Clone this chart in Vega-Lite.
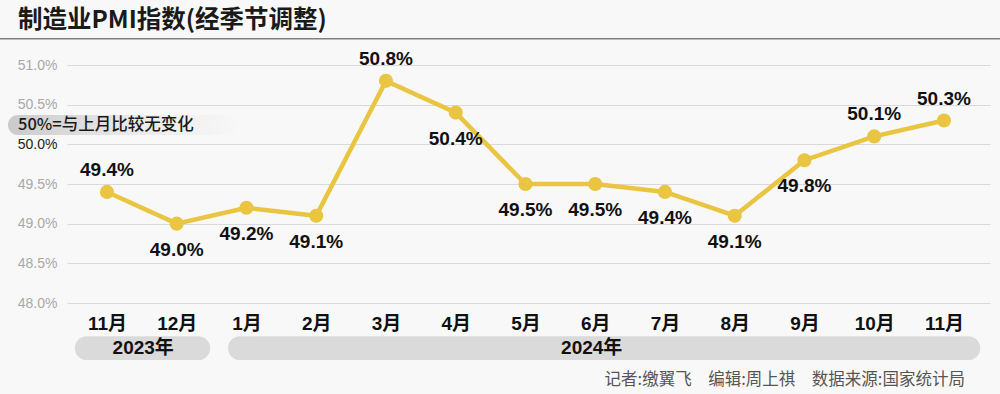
{
  "$schema": "https://vega.github.io/schema/vega-lite/v6.json",
  "width": 923,
  "height": 238,
  "autosize": {"type": "none"},
  "padding": {"left": 67, "top": 65, "right": 10, "bottom": 91},
  "background": "#f8f8f8",
  "config": {
    "view": {"stroke": null},
    "font": "Liberation Sans",
    "axisY": {"tickCount": 7}
  },
  "datasets": {
    "pmi": [
      {"i": 0, "month": "11月", "value": 49.4, "label": "49.4%", "pos": "above"},
      {"i": 1, "month": "12月", "value": 49.0, "label": "49.0%", "pos": "below"},
      {"i": 2, "month": "1月", "value": 49.2, "label": "49.2%", "pos": "below"},
      {"i": 3, "month": "2月", "value": 49.1, "label": "49.1%", "pos": "below"},
      {"i": 4, "month": "3月", "value": 50.8, "label": "50.8%", "pos": "above"},
      {"i": 5, "month": "4月", "value": 50.4, "label": "50.4%", "pos": "below"},
      {"i": 6, "month": "5月", "value": 49.5, "label": "49.5%", "pos": "below"},
      {"i": 7, "month": "6月", "value": 49.5, "label": "49.5%", "pos": "below"},
      {"i": 8, "month": "7月", "value": 49.4, "label": "49.4%", "pos": "below"},
      {"i": 9, "month": "8月", "value": 49.1, "label": "49.1%", "pos": "below"},
      {"i": 10, "month": "9月", "value": 49.8, "label": "49.8%", "pos": "below"},
      {"i": 11, "month": "10月", "value": 50.1, "label": "50.1%", "pos": "above"},
      {"i": 12, "month": "11月", "value": 50.3, "label": "50.3%", "pos": "above"}
    ],
    "years": [
      {"x0": -0.46, "x1": 1.48, "y0": 47.58, "y1": 47.28, "xc": 0.52, "label": "2023年"},
      {"x0": 1.735, "x1": 12.52, "y0": 47.58, "y1": 47.28, "xc": 6.95, "label": "2024年"}
    ]
  },
  "layer": [
    {
      "data": {"name": "pmi"},
      "mark": {"type": "line", "color": "#e9c541", "strokeWidth": 4.5},
      "encoding": {
        "x": {
          "field": "i", "type": "quantitative",
          "scale": {"domain": [-0.573, 12.66], "nice": false, "zero": false},
          "axis": {
            "values": [0,1,2,3,4,5,6,7,8,9,10,11,12],
            "labelExpr": "['11月','12月','1月','2月','3月','4月','5月','6月','7月','8月','9月','10月','11月'][datum.value]",
            "grid": false, "domain": false, "ticks": false, "title": null,
            "labelFontSize": 19, "labelFontWeight": "bold", "labelColor": "#111",
            "labelPadding": 11, "labelOverlap": false, "labelFont": "Liberation Sans, Noto Sans CJK SC"
          }
        },
        "y": {
          "field": "value", "type": "quantitative",
          "scale": {"domain": [48, 51], "nice": false, "zero": false},
          "axis": {
            "values": [48, 48.5, 49, 49.5, 50, 50.5, 51],
            "tickCount": 7,
            "format": ".1f",
            "labelExpr": "datum.label + '%'",
            "grid": true, "gridColor": "#d9d9d9", "gridWidth": 1,
            "domain": false, "ticks": false, "title": null,
            "labelFontSize": 14, "labelPadding": 10, "labelOverlap": false,
            "labelColor": {"condition": {"test": "datum.value == 50", "value": "#222"}, "value": "#a8a8a8"}
          }
        }
      }
    },
    {
      "data": {"values": [{"a": -1.54, "b": 12.81, "y": 51.33}]},
      "mark": {"type": "rule", "clip": false, "color": "#808080", "strokeWidth": 1.5},
      "encoding": {
        "x": {"field": "a", "type": "quantitative"},
        "x2": {"field": "b"},
        "y": {"field": "y", "type": "quantitative"}
      }
    },
    {
      "data": {"values": [{"x": -1.2755, "y": 51.55, "t": "制造业PMI指数(经季节调整)"}]},
      "mark": {"type": "text", "align": "left", "baseline": "middle", "fontSize": 24.5, "font": "Noto Sans CJK SC", "fontWeight": "bold", "color": "#1a1a1a", "clip": false},
      "encoding": {
        "x": {"field": "x", "type": "quantitative"},
        "y": {"field": "y", "type": "quantitative"},
        "text": {"field": "t"}
      }
    },
    {
      "data": {"values": [{"a": -1.42, "b": 1.91, "y0": 50.37, "y1": 50.118}]},
      "mark": {
        "type": "rect", "clip": false, "cornerRadius": 10,
        "color": {"gradient": "linear", "x1": 0, "x2": 1, "y1": 0, "y2": 0,
          "stops": [{"offset": 0, "color": "#cacaca"}, {"offset": 0.5, "color": "#e8e8e8"}, {"offset": 1, "color": "#f8f8f8"}]}
      },
      "encoding": {
        "x": {"field": "a", "type": "quantitative"},
        "x2": {"field": "b"},
        "y": {"field": "y0", "type": "quantitative"},
        "y2": {"field": "y1"}
      }
    },
    {
      "data": {"name": "pmi"},
      "mark": {"type": "circle", "color": "#e9c541", "opacity": 1, "size": 200},
      "encoding": {
        "x": {"field": "i", "type": "quantitative"},
        "y": {"field": "value", "type": "quantitative"}
      }
    },
    {
      "data": {"name": "pmi"},
      "transform": [{"filter": "datum.pos == 'above'"}],
      "mark": {"type": "text", "dy": -22, "fontSize": 19, "fontWeight": "bold", "color": "#111"},
      "encoding": {
        "x": {"field": "i", "type": "quantitative"},
        "y": {"field": "value", "type": "quantitative"},
        "text": {"field": "label"}
      }
    },
    {
      "data": {"name": "pmi"},
      "transform": [{"filter": "datum.pos == 'below'"}],
      "mark": {"type": "text", "dy": 26, "fontSize": 19, "fontWeight": "bold", "color": "#111"},
      "encoding": {
        "x": {"field": "i", "type": "quantitative"},
        "y": {"field": "value", "type": "quantitative"},
        "text": {"field": "label"}
      }
    },
    {
      "data": {"values": [{"x": -1.2755, "y": 50.244, "t": "50%=与上月比较无变化"}]},
      "mark": {"type": "text", "align": "left", "baseline": "middle", "fontSize": 16.5, "font": "Noto Sans CJK SC", "fontWeight": 500, "color": "#1a1a1a", "clip": false},
      "encoding": {
        "x": {"field": "x", "type": "quantitative"},
        "y": {"field": "y", "type": "quantitative"},
        "text": {"field": "t"}
      }
    },
    {
      "data": {"name": "years"},
      "mark": {"type": "rect", "clip": false, "cornerRadius": 13, "color": "#dadada"},
      "encoding": {
        "x": {"field": "x0", "type": "quantitative"},
        "x2": {"field": "x1"},
        "y": {"field": "y0", "type": "quantitative"},
        "y2": {"field": "y1"}
      }
    },
    {
      "data": {"name": "years"},
      "mark": {"type": "text", "clip": false, "baseline": "middle", "fontSize": 19, "fontWeight": "bold", "color": "#111", "font": "Liberation Sans, Noto Sans CJK SC"},
      "encoding": {
        "x": {"field": "xc", "type": "quantitative"},
        "y": {"datum": 47.43, "type": "quantitative"},
        "text": {"field": "label"}
      }
    },
    {
      "data": {"values": [{"x": 12.3, "y": 47.03, "t": "记者:缴翼飞\u2003编辑:周上祺\u2003数据来源:国家统计局"}]},
      "mark": {"type": "text", "clip": false, "align": "right", "baseline": "middle", "fontSize": 16.5, "font": "Noto Sans CJK SC", "color": "#555"},
      "encoding": {
        "x": {"field": "x", "type": "quantitative"},
        "y": {"field": "y", "type": "quantitative"},
        "text": {"field": "t"}
      }
    }
  ]
}
